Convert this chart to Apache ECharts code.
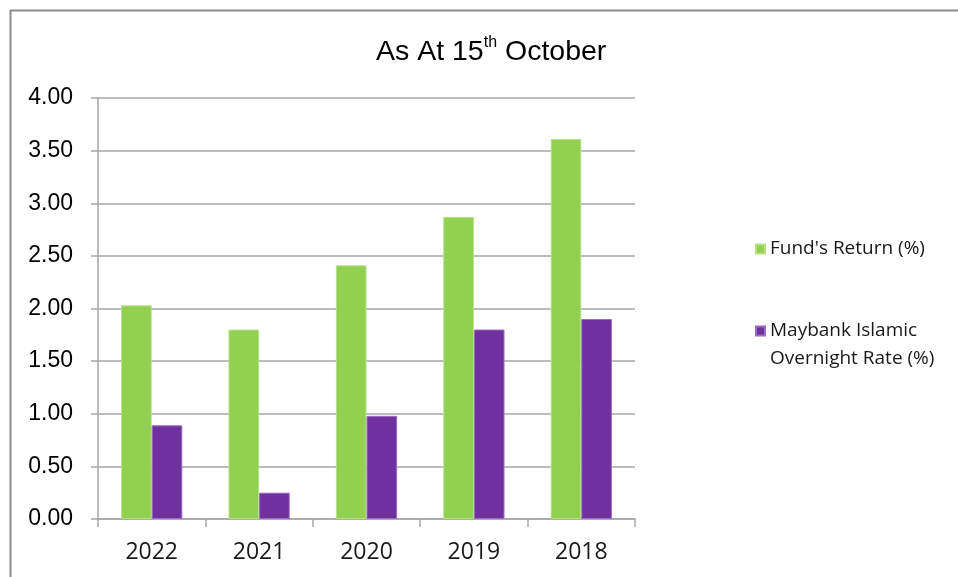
<!DOCTYPE html>
<html>
<head>
<meta charset="utf-8">
<script src="https://cdn.jsdelivr.net/npm/echarts@6/dist/echarts.min.js"></script>
<style>html,body{margin:0;padding:0;background:#fff}#c{width:958px;height:577px}</style>
</head>
<body>
<div id="c"></div>
<script>
const categories = ['2022', '2021', '2020', '2019', '2018'];
const fundReturn = [2.03, 1.80, 2.41, 2.87, 3.61];
const overnightRate = [0.89, 0.25, 0.98, 1.80, 1.90];
const seriesNames = ["Fund's Return (%)", 'Maybank Islamic Overnight Rate (%)'];
const titleMain = ['As At 15', 'th', ' October'];

const chart = echarts.init(document.getElementById('c'), null, {renderer: 'canvas'});
chart.setOption({
  backgroundColor: '#ffffff',
  animation: false,
  title: {
    text: '{a|' + titleMain[0] + '}{s|' + titleMain[1] + '}{a|' + titleMain[2] + '}',
    left: 371, top: 30,
    textStyle: {
      fontWeight: 'normal',
      rich: {
        a: {fontFamily: 'Liberation Sans, Arial', fontSize: 28.5, fontWeight: 'normal', color: '#000', verticalAlign: 'bottom', lineHeight: 32},
        s: {fontFamily: 'Liberation Sans, Arial', fontSize: 16, fontWeight: 'normal', color: '#000', verticalAlign: 'top', lineHeight: 32, padding: [0, 0, 12, 0]}
      }
    }
  },
  legend: {
    orient: 'vertical',
    left: 750, top: 230,
    itemWidth: 9, itemHeight: 9, itemGap: 26,
    icon: 'rect',
    data: seriesNames,
    formatter: function (n) {
      return n === seriesNames[1] ? '\nMaybank Islamic\nOvernight Rate (%)' : n;
    },
    textStyle: {fontFamily: 'Open Sans', fontSize: 19, color: '#1a1a1a', lineHeight: 28}
  },
  grid: {left: 98, right: 323, top: 98, bottom: 58, containLabel: false},
  xAxis: {
    type: 'category',
    data: categories,
    axisLine: {lineStyle: {color: '#a6a6a6', width: 1.5}},
    axisTick: {show: true, length: 8, lineStyle: {color: '#a6a6a6', width: 1.5}},
    axisLabel: {fontFamily: 'Open Sans', fontSize: 23, color: '#1a1a1a', margin: 22}
  },
  yAxis: {
    type: 'value',
    min: 0, max: 4, interval: 0.5,
    axisLine: {show: true, lineStyle: {color: '#a6a6a6', width: 1.5}},
    axisTick: {show: true, length: 7, lineStyle: {color: '#a6a6a6', width: 1.5}},
    splitLine: {lineStyle: {color: '#a6a6a6', width: 1.5}},
    axisLabel: {fontFamily: 'Liberation Sans, Arial', fontSize: 23, color: '#000', margin: 25,
      formatter: function (v) { return v.toFixed(2); }}
  },
  series: [
    {
      name: seriesNames[0], type: 'bar', data: fundReturn,
      barCategoryGap: '43%', barGap: '0%',
      itemStyle: {color: '#92d050', borderColor: '#b5e08a', borderWidth: 1}
    },
    {
      name: seriesNames[1], type: 'bar', data: overnightRate,
      itemStyle: {color: '#7030a0', borderColor: '#9a6cc0', borderWidth: 1}
    }
  ],
  graphic: [{
    type: 'rect', silent: true, z: 100,
    shape: {x: 10.5, y: 10.5, width: 1000, height: 700},
    style: {fill: 'none', stroke: '#8c8c8c', lineWidth: 2}
  }]
});
</script>
</body>
</html>
